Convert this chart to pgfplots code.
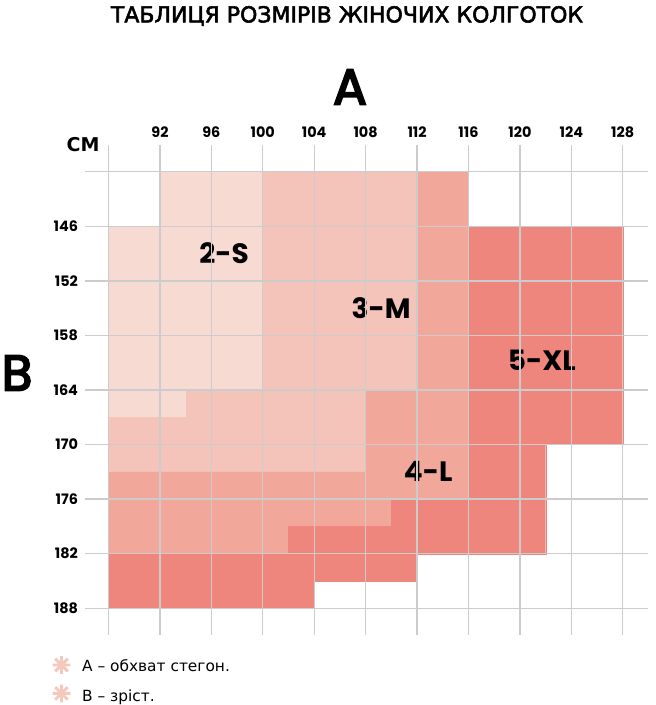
\documentclass[border=0pt]{standalone}
\usepackage{fontspec}
\setmainfont{DejaVu Sans}
\newfontfamily\pop{Poppins}
\newfontfamily\popsb{Poppins}[FakeBold=4]
\newfontfamily\titlefont{DejaVu Sans}[FakeBold=2.5]
\newfontfamily\starfont{DejaVu Sans}[FakeBold=8]
\usepackage{pgfplots}
\pgfplotsset{compat=1.18}

\definecolor{sizeS}{RGB}{247,218,210}
\definecolor{sizeM}{RGB}{244,195,185}
\definecolor{sizeL}{RGB}{241,167,153}
\definecolor{sizeXL}{RGB}{238,134,125}
\definecolor{gridc}{RGB}{204,204,204}
\definecolor{starc}{RGB}{246,200,188}

\begin{document}
\begin{tikzpicture}
% page = 656x705 px at 0.5pt per px, origin = lower left of the grid box
\useasboundingbox (-42.5pt,-35pt) rectangle (285.5pt,317.5pt);
\begin{axis}[
    at={(0,0)}, anchor=south west,
    scale only axis, width=281.65pt, height=245pt,
    xmin=86.17, xmax=129.99, ymin=137.06, ymax=190.94,
    y dir=reverse,
    axis line style={draw=none},
    major tick length=0pt,
    xtick={88,92,...,128},
    xticklabels={,92,96,100,104,108,112,116,120,124,128},
    ytick={140,146,...,188},
    yticklabels={,146,152,158,164,170,176,182,188},
    xticklabel pos=right,
    grid=major,
    major grid style={draw=gridc, line width=0.7pt},
    axis on top,
    /pgf/number format/assume math mode=true,
    ticklabel style={font=\pop\bfseries\fontsize{7.2}{8}\selectfont},
  ]
  % 2-S
  \addplot[fill=sizeS, draw=sizeS, line width=0.1pt] coordinates {
    (92,140) (100,140) (100,164) (94,164) (94,167) (88,167) (88,146) (92,146)
  } -- cycle;
  % 3-M
  \addplot[fill=sizeM, draw=sizeM, line width=0.1pt] coordinates {
    (100,140) (112,140) (112,164) (108,164) (108,173) (88,173) (88,167)
    (94,167) (94,164) (100,164)
  } -- cycle;
  % 4-L
  \addplot[fill=sizeL, draw=sizeL, line width=0.1pt] coordinates {
    (112,140) (116,140) (116,176) (110,176) (110,179) (102,179) (102,182)
    (88,182) (88,173) (108,173) (108,164) (112,164)
  } -- cycle;
  % 5-XL
  \addplot[fill=sizeXL, draw=sizeXL, line width=0.1pt] coordinates {
    (116,146) (128,146) (128,170) (122,170) (122,182) (112,182) (112,185)
    (104,185) (104,188) (88,188) (88,182) (102,182) (102,179) (110,179)
    (110,176) (116,176)
  } -- cycle;

  \node[font=\pop\bfseries\fontsize{14}{16}\selectfont] at (axis cs:96.99,148.94) {2-S};
  \node[font=\pop\bfseries\fontsize{14}{16}\selectfont] at (axis cs:109.21,155.02) {3-M};
  \node[font=\pop\bfseries\fontsize{14}{16}\selectfont] at (axis cs:121.71,160.78) {5-XL};
  \node[font=\pop\bfseries\fontsize{14}{16}\selectfont] at (axis cs:112.86,172.98) {4-L};
\end{axis}

\node[font=\bfseries\fontsize{9.5}{11}\selectfont] at (-1pt,245pt) {СМ};
\node[font=\popsb\fontsize{25}{28}\selectfont] at (132.5pt,274pt) {A};
\node[font=\popsb\fontsize{25}{28}\selectfont] at (-34pt,131pt) {B};
\node[font=\titlefont\fontsize{11}{13}\selectfont] at (131pt,309.5pt) {ТАБЛИЦЯ РОЗМІРІВ ЖІНОЧИХ КОЛГОТОК};

\node[text=starc, font=\starfont\fontsize{11}{12}\selectfont] at (-11.75pt,-15pt) {✳};
\node[text=starc, font=\starfont\fontsize{11}{12}\selectfont] at (-11.75pt,-29.2pt) {✳};
\node[anchor=base west, inner sep=0pt, font=\fontsize{7.7}{9}\selectfont] at (-1.65pt,-18pt) {А – обхват стегон.};
\node[anchor=base west, inner sep=0pt, font=\fontsize{7.7}{9}\selectfont] at (-1.65pt,-33pt) {В – зріст.};
\end{tikzpicture}
\end{document}
